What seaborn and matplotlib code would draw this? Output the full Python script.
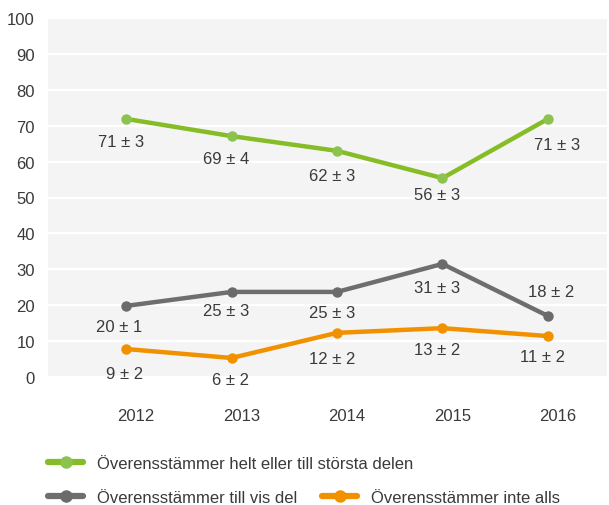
import matplotlib
matplotlib.use("Agg")
import matplotlib.pyplot as plt
import matplotlib.transforms as mtransforms
from matplotlib.lines import Line2D
import pandas as pd
import seaborn as sns

# ------------------------------------------------------
# data
# ------------------------------------------------------
years = [2012, 2013, 2014, 2015, 2016]

helt_vals = [71.9, 67.1, 63.0, 55.4, 71.9]
helt_text = ["71 ± 3", "69 ± 4", "62 ± 3", "56 ± 3", "71 ± 3"]

visdel_vals = [19.8, 23.7, 23.7, 31.5, 17.0]
visdel_text = ["20 ± 1", "25 ± 3", "25 ± 3", "31 ± 3", "18 ± 2"]

inte_vals = [7.8, 5.3, 12.3, 13.6, 11.4]
inte_text = ["9 ± 2", "6 ± 2", "12 ± 2", "13 ± 2", "11 ± 2"]

series_names = [
    "Överensstämmer helt eller till största delen",
    "Överensstämmer till vis del",
    "Överensstämmer inte alls",
]

# ------------------------------------------------------
# styling
# ------------------------------------------------------
LINE_COLORS = ["#86bc25", "#6e6e6e", "#f29100"]
MARK_COLORS = ["#8cc34e", "#6b6b6b", "#f29100"]
TEXT_COLOR = "#3a3a3a"
BG_COLOR = "#f4f4f4"

# label offsets in pixels (dx, dy downwards)
label_offsets = [
    [(-5, 23), (-5, 22), (-5, 25), (-5, 16), (9, 26)],
    [(-7, 21), (-5, 19), (-5, 21), (-5, 24), (3, -24)],
    [(-1, 25), (-1, 22), (-5, 26), (-5, 21), (-5, 20)],
]

sns.set_style("white")
plt.rcParams["font.family"] = ["Liberation Sans", "DejaVu Sans"]

fig = plt.figure(figsize=(6.09, 5.06), dpi=100)
ax = fig.add_axes([48 / 609, 1 - 378 / 506, (607 - 48) / 609, (378 - 19) / 506])
ax.set_facecolor(BG_COLOR)

all_vals = [helt_vals, visdel_vals, inte_vals]
all_text = [helt_text, visdel_text, inte_text]

for name, vals, texts, lc, mc, offs in zip(
    series_names, all_vals, all_text, LINE_COLORS, MARK_COLORS, label_offsets
):
    df = pd.DataFrame({"year": years, "value": vals})
    sns.lineplot(
        data=df, x="year", y="value", ax=ax, color=lc, linewidth=3.2,
        marker="o", markersize=7.5, markerfacecolor=mc, markeredgewidth=0,
        legend=False, zorder=3,
    )
    for x, y, t, (dx, dy) in zip(years, vals, texts, offs):
        ax.annotate(
            t, (x, y), xytext=(dx, -dy), textcoords="offset pixels",
            ha="center", va="center", fontsize=12, color=TEXT_COLOR, zorder=4,
        )

ax.set_xlim(2011.26, 2016.56)
ax.set_ylim(0, 100)
ax.set_yticks(range(0, 101, 10))
ax.set_xticks(years)
ax.set_xticklabels([str(y) for y in years])
ax.set_xlabel("")
ax.set_ylabel("")

ax.grid(axis="y", color="white", linewidth=1.6)
ax.grid(axis="x", visible=False)
ax.set_axisbelow(True)
for sp in ax.spines.values():
    sp.set_visible(False)

ax.tick_params(axis="x", length=0, pad=22, labelsize=12, labelcolor=TEXT_COLOR)
ax.tick_params(axis="y", length=0, pad=9.5, labelsize=12, labelcolor=TEXT_COLOR)

# x tick labels sit a little to the right of the points
shift = mtransforms.ScaledTranslation(0.10, 0, fig.dpi_scale_trans)
for lab in ax.get_xticklabels():
    lab.set_transform(lab.get_transform() + shift)

# ------------------------------------------------------
# legend
# ------------------------------------------------------
def handle(i):
    return Line2D([0], [0], color=LINE_COLORS[i], linewidth=4.5, marker="o",
                  markersize=9, markerfacecolor=MARK_COLORS[i], markeredgewidth=0)


leg_kw = dict(frameon=False, fontsize=12, handlelength=2.1, handletextpad=0.85,
              borderpad=0, borderaxespad=0, labelcolor=TEXT_COLOR,
              loc="upper left", labelspacing=1.15)

fig.legend([handle(0), handle(1)], series_names[:2],
           bbox_to_anchor=(48 / 609, 1 - 457 / 506), **leg_kw)
fig.legend([handle(2)], series_names[2:],
           bbox_to_anchor=(322 / 609, 1 - 491 / 506), **leg_kw)

fig.savefig("out.png", dpi=100)
